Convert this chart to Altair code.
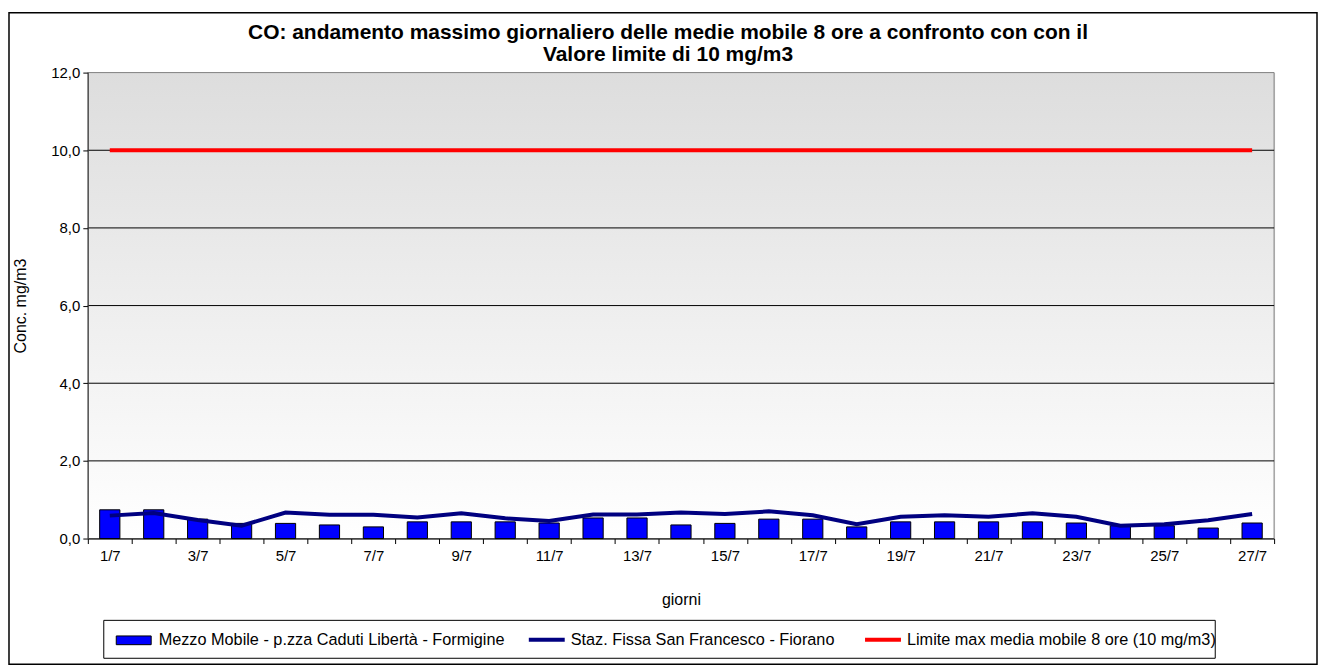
import altair as alt
import pandas as pd

# ---------------- data ----------------
giorni = ["1/7", "2/7", "3/7", "4/7", "5/7", "6/7", "7/7", "8/7", "9/7", "10/7",
          "11/7", "12/7", "13/7", "14/7", "15/7", "16/7", "17/7", "18/7", "19/7",
          "20/7", "21/7", "22/7", "23/7", "24/7", "25/7", "26/7", "27/7"]
mezzo_mobile = [0.74, 0.74, 0.50, 0.39, 0.39, 0.35, 0.30, 0.43, 0.43, 0.43,
                0.40, 0.53, 0.53, 0.35, 0.39, 0.50, 0.50, 0.30, 0.43, 0.43,
                0.43, 0.43, 0.40, 0.33, 0.33, 0.27, 0.40]
staz_fissa = [0.59, 0.66, 0.48, 0.33, 0.67, 0.61, 0.61, 0.54, 0.65, 0.52,
              0.45, 0.62, 0.62, 0.67, 0.63, 0.70, 0.60, 0.37, 0.56, 0.60,
              0.56, 0.65, 0.56, 0.33, 0.37, 0.47, 0.63]
limite = [10.0, 10.0, 10.0, 10.0, 10.0, 10.0, 10.0, 10.0, 10.0, 10.0,
          10.0, 10.0, 10.0, 10.0, 10.0, 10.0, 10.0, 10.0, 10.0, 10.0,
          10.0, 10.0, 10.0, 10.0, 10.0, 10.0, 10.0]
griglia_y = [2, 4, 6, 8, 10]
tick_y = [0, 2, 4, 6, 8, 10, 12]

S1 = "Mezzo Mobile - p.zza Caduti Libertà - Formigine"
S2 = "Staz. Fissa San Francesco - Fiorano"
S3 = "Limite max media mobile 8 ore (10 mg/m3)"

titolo = ["CO: andamento massimo giornaliero delle medie mobile 8 ore a confronto con con il",
          "Valore limite di 10 mg/m3"]

df_bar = pd.DataFrame({"giorno": giorni, "valore": mezzo_mobile, "serie": S1})
df_line = pd.concat([
    pd.DataFrame({"giorno": giorni, "valore": staz_fissa, "serie": S2}),
    pd.DataFrame({"giorno": giorni, "valore": limite, "serie": S3}),
])
df_grid = pd.DataFrame({"v": griglia_y})

# ---------------- layout ----------------
W, H = 1189, 467
FONT = "Liberation Sans"
LFS = 16.3

yscale = alt.Scale(domain=[0, 12], nice=False, zero=True)
xscale = alt.Scale(paddingInner=0, paddingOuter=0)

x_axis = alt.Axis(
    title="giorni", labelAngle=0, tickBand="extent", ticks=True, tickSize=5,
    tickColor="black", domainColor="black", domainWidth=1, grid=False,
    labelExpr="toNumber(split(datum.value, '/')[0]) % 2 == 1 ? datum.value : ''",
    labelFont=FONT, labelFontSize=15, labelColor="black", labelPadding=5,
    labelOverlap=False,
    titleFont=FONT, titleFontSize=16, titleFontWeight="normal", titleColor="black",
    titlePadding=28, zindex=1,
)
y_axis = alt.Axis(
    title="Conc. mg/m3", values=tick_y, grid=False, tickSize=5, tickColor="black",
    domainColor="#404040", domainWidth=1,
    labelExpr="replace(format(datum.value, '.1f'), '.', ',')",
    labelFont=FONT, labelFontSize=15, labelColor="black", labelPadding=3,
    labelOverlap=False,
    titleFont=FONT, titleFontSize=16, titleFontWeight="normal", titleColor="black",
    titlePadding=22, zindex=1,
)

legenda_barre = alt.Legend(
    title=None, orient="none", legendX=28, legendY=551, direction="horizontal",
    labelFont=FONT, labelFontSize=LFS, labelColor="black", labelOffset=7,
    labelLimit=600, symbolSize=1225, symbolType="M-1,-0.25H1V0.25H-1Z",
    symbolStrokeColor="black", symbolStrokeWidth=1, symbolOpacity=1,
)
legenda_linee = alt.Legend(
    title=None, orient="none", legendX=440, legendY=548, direction="horizontal",
    columns=2, labelFont=FONT, labelFontSize=LFS, labelColor="black", labelOffset=4,
    labelLimit=600, columnPadding=22, symbolSize=1296, symbolType="stroke",
    symbolStrokeWidth=4, symbolOpacity=1,
)

gradiente = alt.LinearGradient(
    gradient="linear", x1=0, x2=0, y1=0, y2=1,
    stops=[alt.GradientStop(color="#DDDDDD", offset=0),
           alt.GradientStop(color="#FFFFFF", offset=1)],
)

uno = pd.DataFrame({"a": [0]})

sfondo = alt.Chart(uno).mark_rect(
    fill=gradiente, stroke="#808080", strokeWidth=1
).encode(x=alt.value(0), x2=alt.value(W), y=alt.value(0), y2=alt.value(H))

cornice = alt.Chart(uno).mark_rect(
    fillOpacity=0, stroke="black", strokeWidth=1.5
).encode(x=alt.value(-79), x2=alt.value(1232), y=alt.value(-60), y2=alt.value(593))

box_legenda = alt.Chart(uno).mark_rect(
    fill="white", stroke="black", strokeWidth=1
).encode(x=alt.value(16), x2=alt.value(1130), y=alt.value(549), y2=alt.value(587))

griglia = alt.Chart(df_grid).mark_rule(color="black", strokeWidth=1).encode(
    y=alt.Y("v:Q", scale=yscale, axis=y_axis)
)

barre = alt.Chart(df_bar).mark_bar(
    stroke="black", strokeWidth=1, width=alt.RelativeBandSize(0.46)
).encode(
    x=alt.X("giorno:N", sort=giorni, scale=xscale, axis=x_axis),
    y=alt.Y("valore:Q", scale=yscale, axis=y_axis),
    fill=alt.Fill("serie:N", scale=alt.Scale(domain=[S1], range=["#0000FF"]),
                  legend=legenda_barre),
)

linee = alt.Chart(df_line).mark_line(strokeWidth=4).encode(
    x=alt.X("giorno:N", sort=giorni, scale=xscale, axis=x_axis),
    y=alt.Y("valore:Q", scale=yscale, axis=y_axis),
    stroke=alt.Stroke("serie:N", scale=alt.Scale(domain=[S2, S3], range=["#000080", "#FF0000"]),
                      legend=legenda_linee),
)

chart = alt.layer(sfondo, griglia, barre, linee, box_legenda, cornice).properties(
    width=W, height=H,
    autosize=alt.AutoSizeParams(type="none"),
    padding={"left": 80, "top": 64, "right": 45, "bottom": 128},
    title=alt.TitleParams(
        text=titolo, font=FONT, fontSize=21, fontWeight="bold", color="black",
        anchor="middle", frame="group", dx=-13, offset=-53, lineHeight=22,
    ),
).configure_view(stroke="transparent").configure(font=FONT, background="white")

chart.save("out.html", embed_options={"renderer": "svg", "actions": False})
